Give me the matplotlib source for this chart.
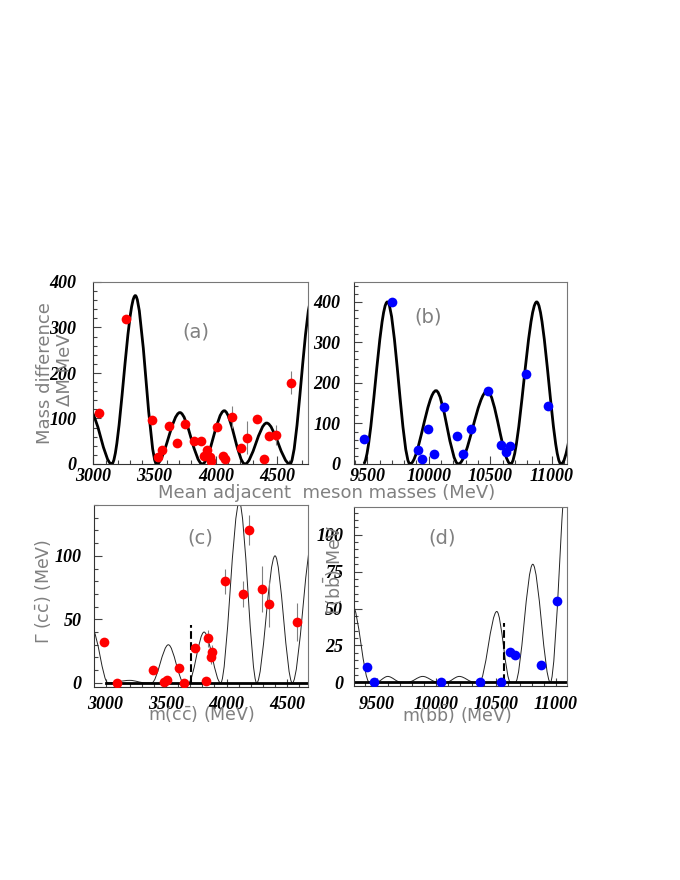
import matplotlib
matplotlib.use("Agg")
import matplotlib.pyplot as plt
from matplotlib.path import Path
from matplotlib.patches import PathPatch
from matplotlib.ticker import MultipleLocator

plt.rcParams["mathtext.fontset"] = "dejavusans"

# ---- (a) charmonium: mass difference vs mean adjacent mass ----
cc_mean_mass = [3049, 3264, 3482, 3531, 3558, 3615, 3683, 3751, 3822, 3876, 3903, 3925, 3952,
                3958, 4009, 4058, 4075, 4134, 4205, 4254, 4336, 4393, 4431, 4493, 4616]
cc_mass_diff = [113, 318, 96, 15, 31, 83, 47, 87, 50, 50, 18, 31, 15,
                7, 82, 17, 12, 104, 36, 58, 99, 11, 61, 64, 179]
cc_diff_err = [0, 0, 0, 0, 0, 0, 0, 0, 0, 0, 0, 0, 0,
               0, 0, 0, 0, 24, 0, 37, 0, 0, 0, 22, 26]
# curve: zeros and maxima
cc_diff_curve_x = [2970, 3150, 3343, 3517, 3707, 3890, 4069, 4238, 4415, 4605, 4790]
cc_diff_curve_y = [118, 0, 370, 0, 113, 0, 117, 0, 90, 0, 370]

# ---- (b) bottomonium: mass difference vs mean adjacent mass ----
bb_mean_mass = [9471, 9701, 9912, 9945, 9994, 10045, 10126, 10232, 10278, 10341, 10479,
                10585, 10626, 10658, 10791, 10967]
bb_mass_diff = [62, 399, 34, 13, 87, 25, 140, 70, 24, 86, 180, 46, 29, 44, 223, 143]
bb_diff_curve_x = [9467, 9663, 9847, 10059, 10240, 10476, 10666, 10878, 11076, 11340]
bb_diff_curve_y = [0, 400, 0, 181, 0, 180, 0, 400, 0, 400]

# ---- (c) charmonium widths ----
cc_mass = [2988, 3097, 3395, 3486, 3506, 3610, 3651, 3737, 3830, 3847, 3874, 3880,
           3990, 4133, 4188, 4295, 4353, 4579]
cc_width = [32.4, 0, 10.5, 0.8, 2, 11.6, 0.3, 27.4, 1.3, 35, 20, 24.5,
            80, 70, 120.5, 74, 62, 48]
cc_width_err = [0, 0, 0, 0, 0, 0, 0, 2, 0, 7, 5, 5, 10, 10, 12, 18, 18, 15]
cc_width_curve_x = [2890, 3020, 3200, 3330, 3381, 3519, 3648, 3684, 3814, 3951,
                    4105, 4249, 4400, 4543, 4720]
cc_width_curve_y = [42, 0, 2, 0, 0, 30, 0, 0, 40, 0, 142, 0, 100, 0, 120]
cc_threshold = [3706, 45.5]

# ---- (d) bottomonium widths ----
bb_mass = [9418, 9482, 10038, 10369, 10545, 10615, 10657, 10880, 11014]
bb_width = [10.6, 0, 0, 0, 0, 20.7, 18.2, 11.7, 55]
bb_width_curve_x = [9300, 9440, 9496, 9594, 9705, 9761, 9887, 10013, 10082, 10193, 10319,
                    10361, 10507, 10621, 10662, 10808, 10955, 11110]
bb_width_curve_y = [52, 0, 0, 4, 0, 0, 4, 0, 0, 4, 0, 0, 48, 0, 0, 80, 0, 160]
bb_threshold = [10568, 40]

cc_ticks = [3000, 3500, 4000, 4500]
bb_ticks = [9500, 10000, 10500, 11000]

W, H = 680, 880
GRAY = "#808080"
TICKFONT = dict(family="Liberation Serif", weight="bold", style="italic", size=13)


def box(l, t, r, b):
    return [l / W, 1 - b / H, (r - l) / W, (b - t) / H]


def smooth_curve(ax, xs, ys, lw, color):
    # cubic segments with flat tangents at every zero / maximum
    verts = [(xs[0], ys[0])]
    codes = [Path.MOVETO]
    for x0, y0, x1, y1 in zip(xs[:-1], ys[:-1], xs[1:], ys[1:]):
        d = (x1 - x0) / 3.0
        verts += [(x0 + d, y0), (x1 - d, y1), (x1, y1)]
        codes += [Path.CURVE4] * 3
    ax.add_patch(PathPatch(Path(verts, codes), fill=False, lw=lw, edgecolor=color,
                           zorder=2))


def style(ax, xlim, ylim, xticks, ymajor, yminor, ypad, xpad):
    ax.set_xlim(xlim)
    ax.set_ylim(ylim)
    ax.set_xticks(xticks)
    ax.xaxis.set_minor_locator(MultipleLocator(100))
    ax.yaxis.set_major_locator(MultipleLocator(ymajor))
    ax.yaxis.set_minor_locator(MultipleLocator(yminor))
    ax.tick_params(which="both", direction="in", color="#444", width=0.8)
    ax.tick_params(which="major", length=6)
    ax.tick_params(which="minor", length=3)
    ax.tick_params(axis="y", pad=ypad)
    ax.tick_params(axis="x", pad=xpad)
    for lab in ax.get_xticklabels() + ax.get_yticklabels():
        lab.set_fontproperties(matplotlib.font_manager.FontProperties(**TICKFONT))
    for s in ax.spines.values():
        s.set_color("#777")
        s.set_linewidth(0.8)
    ax.spines["left"].set_color("#333")
    ax.spines["bottom"].set_color("#333")


fig = plt.figure(figsize=(6.8, 8.8), dpi=100)

# (a)
ax = fig.add_axes(box(93.3, 282, 307.7, 464))
smooth_curve(ax, cc_diff_curve_x, cc_diff_curve_y, 2.0, "black")
ax.errorbar(cc_mean_mass, cc_mass_diff, yerr=cc_diff_err, fmt="none", ecolor=GRAY,
            elinewidth=0.8, zorder=3)
ax.plot(cc_mean_mass, cc_mass_diff, "o", color="red", ms=7, mec="none", zorder=4)
style(ax, (3000, 4750), (0, 400), cc_ticks, 100, 20, 12, 3)

# (b)
ax = fig.add_axes(box(354.3, 281.7, 566.7, 464))
smooth_curve(ax, bb_diff_curve_x, bb_diff_curve_y, 2.0, "black")
ax.plot(bb_mean_mass, bb_mass_diff, "o", color="blue", ms=7, mec="none", zorder=4)
style(ax, (9394, 11122), (0, 450), bb_ticks, 100, 20, 10, 3)

# (c)
ax = fig.add_axes(box(94.3, 505, 307.7, 686.7))
smooth_curve(ax, cc_width_curve_x, cc_width_curve_y, 0.7, "#222")
ax.plot([3000, 4670], [0, 0], color="black", lw=2, zorder=2)
ax.plot([cc_threshold[0]] * 2, [0, cc_threshold[1]], "--", color="black", lw=1.5, zorder=2)
ax.errorbar(cc_mass, cc_width, yerr=cc_width_err, fmt="none", ecolor=GRAY,
            elinewidth=0.8, zorder=3)
ax.plot(cc_mass, cc_width, "o", color="red", ms=7, mec="none", zorder=4)
style(ax, (2907, 4670), (-3, 140), cc_ticks, 50, 10, 9, 7)

# (d)
ax = fig.add_axes(box(354.3, 506.7, 566.7, 686))
smooth_curve(ax, bb_width_curve_x, bb_width_curve_y, 0.7, "#222")
ax.plot([9314, 11092], [0, 0], color="black", lw=2, zorder=2)
ax.plot([bb_threshold[0]] * 2, [0, bb_threshold[1]], "--", color="black", lw=1.5, zorder=2)
ax.plot(bb_mass, bb_width, "o", color="blue", ms=7, mec="none", zorder=4)
style(ax, (9314, 11092), (-2.5, 119), bb_ticks, 25, 5, 8, 7)

# texts
def ftext(x, y, s, **kw):
    fig.text(x / W, 1 - y / H, s, ha="center", va="center", color=GRAY,
             family="DejaVu Sans", **kw)

ftext(196, 332, "(a)", size=14)
ftext(428, 317, "(b)", size=14)
ftext(200, 538, "(c)", size=14)
ftext(442, 538, "(d)", size=14)
ftext(45, 373, "Mass difference", size=13, rotation=90)
ftext(65, 370, "ΔM MeV", size=13, rotation=90)
ftext(327, 493, "Mean adjacent  meson masses (MeV)", size=13)
ftext(201, 714, r"m(c$\bar{\mathrm{c}}$) (MeV)", size=12.5)
ftext(457, 714, r"m(b$\bar{\mathrm{b}}$) (MeV)", size=12.5)
ftext(43, 592, r"Γ (c$\bar{\mathrm{c}}$) (MeV)", size=12.5, rotation=90)
ftext(333, 570, r"Γ(b$\bar{\mathrm{b}}$) MeV", size=12.5, rotation=90)

fig.savefig("out.png", dpi=100)
